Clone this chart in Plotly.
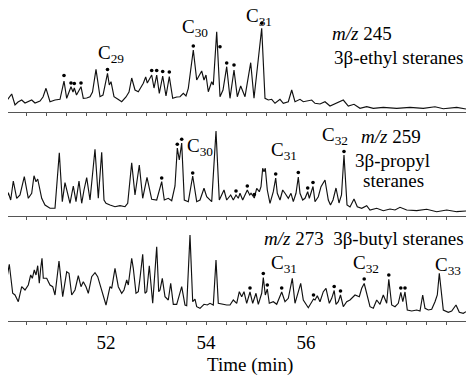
import plotly.graph_objects as go

# ---------------- data (retention time in min, relative abundance) ----------------
P1_TIME = [50.000, 50.114, 50.180, 50.240, 50.314, 50.380, 50.514, 50.580, 50.680, 50.740,
           50.800, 50.880, 50.980, 51.080, 51.160, 51.214, 51.300, 51.340, 51.366, 51.410,
           51.500, 51.546, 51.614, 51.680, 51.730, 51.800, 51.880, 51.940, 52.030, 52.066,
           52.100, 52.160, 52.240, 52.314, 52.400, 52.460, 52.514, 52.580, 52.646, 52.746,
           52.794, 52.826, 52.914, 52.960, 53.014, 53.066, 53.134, 53.200, 53.266, 53.334,
           53.414, 53.480, 53.546, 53.600, 53.646, 53.746, 53.814, 53.914, 53.960, 54.000,
           54.046, 54.114, 54.146, 54.214, 54.280, 54.340, 54.414, 54.480, 54.560, 54.626,
           54.694, 54.780, 54.894, 54.960, 55.114, 55.180, 55.246, 55.314, 55.380, 55.480,
           55.546, 55.646, 55.714, 55.780, 55.880, 55.946, 56.114, 56.180, 56.280, 56.380,
           56.480, 56.580, 56.746, 56.846, 56.960, 57.080, 57.214, 57.346, 57.546, 57.814,
           58.080, 58.346, 58.580, 58.746, 59.014, 59.200]
P1_ABUND = [10.3, 18, 7, 10, 12, 9, 12, 9, 11, 15,
            23.7, 10.3, 12, 12.7, 31, 13.7, 25.3, 20, 24, 17,
            25.3, 13.7, 14, 15.3, 20, 42.7, 15.3, 17, 38.7, 27,
            30.3, 15.3, 12.7, 10.3, 15, 20, 34, 22, 20.3, 28.7,
            35, 29, 37, 24, 37, 18.7, 36, 16, 35.3, 13.7,
            15, 15.3, 18.7, 16, 23.7, 62, 32, 41, 32, 37,
            20.3, 30.3, 27, 80.3, 15.3, 22, 45.3, 13.7, 42, 15.3,
            26, 15.3, 49.3, 13.7, 83.7, 13.7, 12, 12.7, 8.7, 12.7,
            8.7, 10.3, 22, 10.3, 12.7, 10.3, 12, 8.7, 8, 10.3,
            6, 8, 12, 6, 7.7, 3.7, 5.3, 3.7, 4.7, 3.7,
            4.7, 3.7, 5.3, 3.3, 4.7, 3]
P1_DOT_TIME = [51.160, 51.300, 51.366, 51.500, 52.030, 52.914, 53.014, 53.134, 53.266,
               53.746, 54.280, 54.414, 54.560, 55.114]
P1_DOT_ABUND = [36.5, 29, 28.5, 29, 42.5, 41.5, 41.5, 40.5, 40, 66, 65.3, 49, 47, 88.7]

P2_TIME = [50.000, 50.046, 50.094, 50.146, 50.214, 50.280, 50.366, 50.446, 50.514, 50.560,
           50.600, 50.634, 50.714, 50.780, 50.880, 50.980, 51.066, 51.126, 51.180, 51.280,
           51.346, 51.400, 51.460, 51.514, 51.560, 51.614, 51.680, 51.780, 51.846, 51.914,
           51.960, 52.000, 52.080, 52.180, 52.280, 52.380, 52.434, 52.514, 52.580, 52.666,
           52.734, 52.820, 52.914, 53.014, 53.114, 53.166, 53.246, 53.314, 53.380, 53.426,
           53.466, 53.514, 53.566, 53.646, 53.734, 53.814, 53.880, 53.960, 54.014, 54.114,
           54.200, 54.266, 54.360, 54.414, 54.494, 54.546, 54.600, 54.646, 54.680, 54.734,
           54.780, 54.826, 54.874, 54.900, 54.966, 55.014, 55.066, 55.100, 55.134, 55.160,
           55.186, 55.226, 55.280, 55.346, 55.394, 55.426, 55.480, 55.534, 55.580, 55.646,
           55.700, 55.746, 55.800, 55.846, 55.880, 55.934, 55.980, 56.034, 56.066, 56.140,
           56.180, 56.246, 56.300, 56.380, 56.446, 56.490, 56.540, 56.600, 56.660, 56.710,
           56.760, 56.820, 56.880, 56.960, 57.026, 57.114, 57.214, 57.280, 57.414, 57.546,
           57.680, 57.780, 57.880, 58.014, 58.214, 58.414, 58.614, 58.814, 59.014, 59.200]
P2_ABUND = [14.8, 23.8, 16.5, 35.5, 18.2, 21.5, 39.8, 18.2, 23.2, 40.8,
            34.8, 37.5, 18.2, 11.5, 8.2, 8.2, 63.8, 14.8, 33.8, 13.2,
            30.5, 14.8, 35.5, 13.2, 26.5, 38.8, 16.5, 67.2, 18.2, 64.2,
            16.5, 13.2, 11.5, 9.8, 10.8, 9.8, 13.2, 53.8, 21.5, 51.5,
            18.2, 39.2, 17.2, 16.5, 34.8, 16.5, 18.2, 15.8, 30.5, 68.5,
            56.5, 73.5, 16.5, 14.8, 40.5, 14.8, 16.5, 28.2, 19.8, 14.8,
            85.5, 16.5, 26.5, 16.5, 21.5, 16.5, 21.5, 18.2, 23.2, 16.5,
            21.5, 26.5, 21.5, 23.2, 18.5, 28.2, 24.8, 29.8, 48.2, 44.8,
            48.2, 26.5, 13.2, 24.8, 38.5, 23.2, 16.5, 26.5, 23.2, 18.2,
            23.2, 14.8, 23.2, 39.5, 23.2, 16.5, 18.2, 24.8, 18.2, 30,
            14.8, 19.8, 29.8, 36.5, 16.5, 11.5, 16.5, 28.5, 13.5, 21.5,
            61.5, 11.5, 9.5, 17.5, 9.8, 8.2, 10.8, 6.5, 8.2, 5.8,
            7.5, 6.5, 9.2, 6.5, 5.8, 7.2, 4.8, 6.5, 4.8, 5.5]
P2_DOT_TIME = [53.114, 53.426, 53.514, 53.734, 54.600, 54.826, 54.966, 55.394, 55.846,
               56.034, 56.140, 56.760]
P2_DOT_ABUND = [38.5, 72.2, 77.2, 43.5, 25.5, 30.5, 22, 42.5, 44, 28.5, 34, 65]

P3_TIME = [50.000, 50.066, 50.134, 50.180, 50.246, 50.314, 50.380, 50.446, 50.494, 50.526,
           50.566, 50.600, 50.634, 50.666, 50.694, 50.720, 50.746, 50.814, 50.880, 50.934,
           50.980, 51.060, 51.134, 51.214, 51.260, 51.314, 51.380, 51.446, 51.500, 51.546,
           51.600, 51.646, 51.714, 51.780, 51.834, 51.914, 52.000, 52.080, 52.114, 52.180,
           52.246, 52.314, 52.360, 52.414, 52.446, 52.514, 52.546, 52.600, 52.646, 52.680,
           52.734, 52.780, 52.814, 52.866, 52.934, 53.014, 53.054, 53.080, 53.126, 53.180,
           53.246, 53.294, 53.346, 53.414, 53.514, 53.580, 53.614, 53.680, 53.734, 53.780,
           53.814, 53.880, 53.960, 54.026, 54.080, 54.146, 54.200, 54.246, 54.314, 54.414,
           54.480, 54.546, 54.614, 54.666, 54.714, 54.760, 54.814, 54.880, 54.934, 55.000,
           55.046, 55.114, 55.146, 55.186, 55.226, 55.266, 55.346, 55.414, 55.514, 55.580,
           55.646, 55.726, 55.780, 55.846, 55.894, 55.946, 56.046, 56.150, 56.180, 56.226,
           56.280, 56.346, 56.400, 56.466, 56.514, 56.564, 56.600, 56.646, 56.690, 56.746,
           56.814, 56.880, 56.980, 57.066, 57.114, 57.164, 57.226, 57.280, 57.346, 57.414,
           57.480, 57.546, 57.614, 57.656, 57.714, 57.780, 57.846, 57.896, 57.936, 57.980,
           58.026, 58.114, 58.214, 58.280, 58.334, 58.380, 58.446, 58.514, 58.580, 58.626,
           58.666, 58.706, 58.746, 58.846, 58.914, 59.000, 59.066, 59.146, 59.200]
P3_ABUND = [37.7, 56.7, 27.7, 26, 19.3, 34.3, 31, 36, 46, 42.7,
            51, 46, 55.3, 37.7, 52.7, 62.7, 42.7, 42.7, 36, 34.3,
            26, 60, 24.3, 49.3, 47.7, 26, 31, 45.3, 34.3, 39.3,
            34.3, 27.7, 44.3, 48.3, 44.3, 31, 16, 34.3, 32.7, 52.7,
            34.3, 27.7, 31, 41, 36, 62.7, 52.7, 27.7, 29.3, 42.7,
            66.7, 27.7, 29.3, 55.3, 17.7, 74.3, 29.3, 31, 42.7, 24.3,
            21, 37.7, 16.7, 16.7, 34.3, 16, 15.3, 86, 19.3, 22,
            14.3, 12.7, 16.7, 16, 17.7, 16, 61, 17.7, 16.7, 16,
            16, 21, 17.7, 29.3, 24.3, 29.3, 17.7, 29, 17.7, 27.7,
            16.7, 27.7, 43.5, 26, 32, 17.7, 19.3, 16.7, 29, 19.3,
            22.7, 42.7, 17.7, 29.3, 37.7, 21, 13.3, 22, 21, 25.3,
            19.3, 29.3, 32.7, 17.7, 22.7, 30.5, 16.7, 19.3, 26, 14.3,
            19.3, 21, 26, 24.3, 32.7, 37.5, 23.3, 14.3, 12.7, 21,
            16.7, 26, 17.7, 41.7, 16, 14.3, 17.7, 28.5, 19.3, 29,
            11, 10, 11, 10, 26, 12.7, 11, 11.7, 19.3, 26,
            47.7, 26, 11, 8.7, 10, 16, 8.7, 7.7, 9.3]
P3_DOT_TIME = [54.880, 55.146, 55.226, 55.514, 56.150, 56.564, 56.690, 57.164, 57.656,
               57.896, 57.980]
P3_DOT_ABUND = [33, 47.5, 36, 33, 26, 34.5, 30, 42, 46, 33, 33]

TICK_LABEL_TIMES = [52, 54, 56]
TICK_LABELS = ["52", "54", "56"]
X_TITLE = "Time (min)"

# labels: (text, time, abundance, x-anchor)
P1_LABELS = [("C<sub>29</sub>", 52.09, 58, "center"), ("C<sub>30</sub>", 53.78, 84, "center"),
             ("C<sub>31</sub>", 55.06, 95.5, "center"), ("<i>m/z</i> 245", 57.12, 79, "center"),
             ("3β-ethyl steranes", 59.18, 55, "right")]
P2_LABELS = [("C<sub>30</sub>", 53.88, 70, "center"), ("C<sub>31</sub>", 55.55, 66, "center"),
             ("C<sub>32</sub>", 56.58, 81, "center"), ("<i>m/z</i> 259", 57.70, 80.5, "center"),
             ("3β-propyl", 57.72, 56.5, "center"), ("steranes", 57.74, 35.5, "center")]
P3_LABELS = [("<i>m/z</i> 273\u00a0 3β-butyl steranes", 59.19, 82, "right"),
             ("C<sub>31</sub>", 55.56, 57, "center"), ("C<sub>32</sub>", 57.19, 57, "center"),
             ("C<sub>33</sub>", 58.83, 55, "center")]

# ---------------- figure ----------------
FONT = "Liberation Serif"
LINE_COLOR = "#111111"
AXIS_COLOR = "#555555"
FS = 19

panels = [
    (P1_TIME, P1_ABUND, P1_DOT_TIME, P1_DOT_ABUND, P1_LABELS, "x", "y"),
    (P2_TIME, P2_ABUND, P2_DOT_TIME, P2_DOT_ABUND, P2_LABELS, "x2", "y2"),
    (P3_TIME, P3_ABUND, P3_DOT_TIME, P3_DOT_ABUND, P3_LABELS, "x3", "y3"),
]

fig = go.Figure()
annotations = []
for t, a, dt, da, labels, xr, yr in panels:
    fig.add_trace(go.Scatter(x=t, y=a, mode="lines", xaxis=xr, yaxis=yr,
                             line=dict(color=LINE_COLOR, width=1.15), showlegend=False,
                             hoverinfo="skip"))
    fig.add_trace(go.Scatter(x=dt, y=da, mode="markers", xaxis=xr, yaxis=yr,
                             marker=dict(color="black", size=3.6), showlegend=False,
                             cliponaxis=False, hoverinfo="skip"))
    for text, lx, ly, anc in labels:
        annotations.append(dict(text=text, x=lx, y=ly, xref=xr, yref=yr,
                                showarrow=False, xanchor=anc, yanchor="middle",
                                font=dict(family=FONT, size=FS, color="black")))

annotations.append(dict(text=X_TITLE, x=0.5284, y=-0.1406, xref="paper", yref="paper",
                        showarrow=False, xanchor="center", yanchor="middle",
                        font=dict(family=FONT, size=FS, color="black")))


def xaxis_cfg(anchor, show_labels):
    return dict(range=[50.04, 59.2], anchor=anchor, showline=True, linecolor=AXIS_COLOR,
                linewidth=1, ticks="outside", ticklen=3, tickwidth=1, tickcolor=AXIS_COLOR,
                tickmode="array", tickvals=TICK_LABEL_TIMES, ticktext=TICK_LABELS,
                showticklabels=show_labels, showgrid=False, zeroline=False,
                ticklabelstandoff=1,
                minor=dict(tickmode="linear", tick0=50, dtick=0.4, ticks="outside",
                           ticklen=3, tickwidth=1, tickcolor=AXIS_COLOR, showgrid=False),
                tickfont=dict(family=FONT, size=FS, color="black"))


def yaxis_cfg(anchor, dom, top):
    return dict(domain=dom, range=[0, top], anchor=anchor, visible=False,
                showgrid=False, zeroline=False)


# page body adds an 8px offset, so the figure is sized to the remaining window
fig.update_layout(
    width=466, height=371,
    margin=dict(l=0, r=8, t=0, b=58),
    paper_bgcolor="white", plot_bgcolor="white",
    xaxis=xaxis_cfg("y", False),
    xaxis2=xaxis_cfg("y2", False),
    xaxis3=xaxis_cfg("y3", True),
    yaxis=yaxis_cfg("x", [0.6677, 1.0], 104),
    yaxis2=yaxis_cfg("x2", [0.3339, 0.6613], 102.5),
    yaxis3=yaxis_cfg("x3", [0.0, 0.3259], 102),
    annotations=annotations,
)

fig.write_html("out.html")
